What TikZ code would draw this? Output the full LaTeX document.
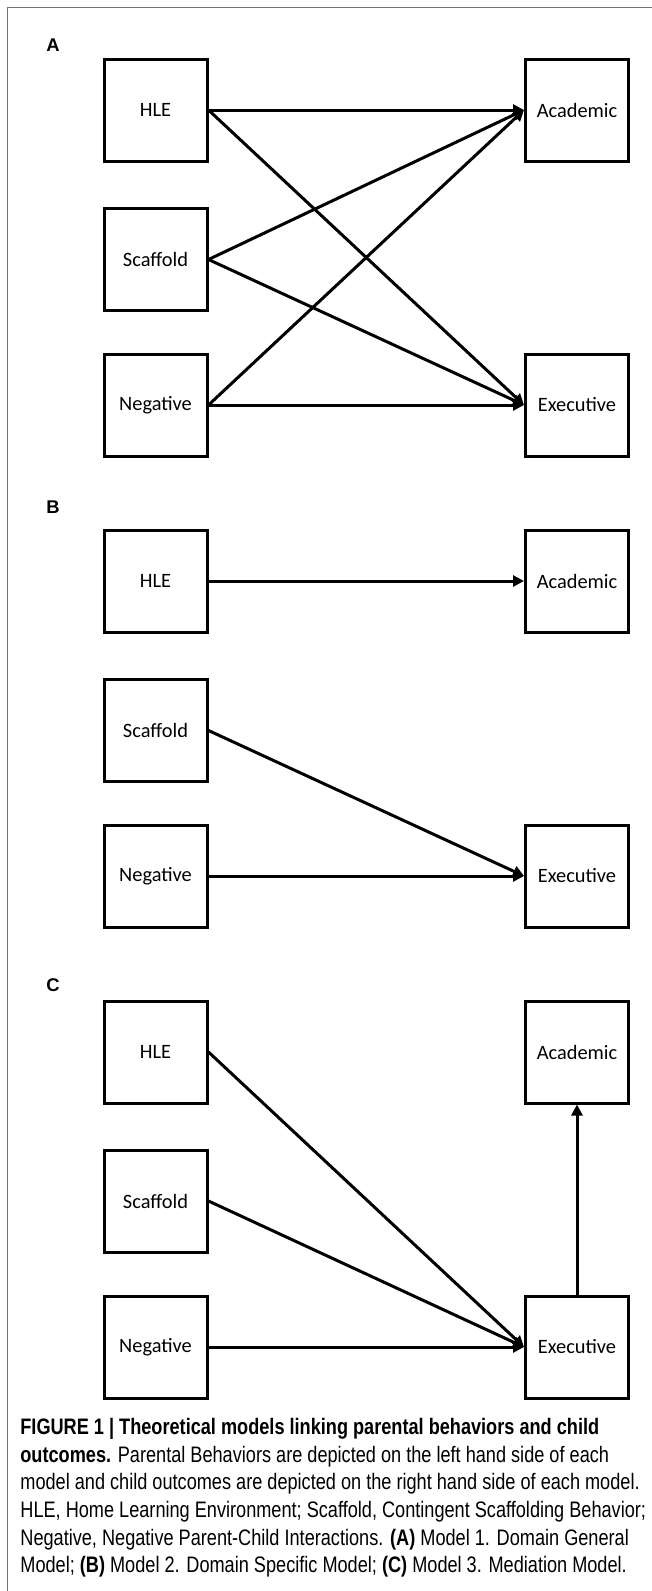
\documentclass[tikz,border=0pt]{standalone}
\usepackage{fontspec}
\setmainfont{Liberation Sans}
\newfontfamily\boxfont{Carlito}
\newfontfamily\capfont[FakeStretch=0.81]{Liberation Sans}
\usetikzlibrary{arrows.meta}
\tikzset{
    var-box/.style = {draw=black, line width=1.5pt, rectangle, minimum width=51.5pt, minimum height=51pt, inner sep=0pt, font=\boxfont\fontsize{10.2}{12}\selectfont},
    panel-label/.style = {font=\bfseries\fontsize{9.2}{10}\selectfont},
    path-arrow/.style = {line width=1.5pt, -{Triangle[length=5.5pt, width=5.5pt]}},
    frame-line/.style = {draw=black!55, line width=0.75pt},
    caption-text/.style = {align=left, inner sep=0pt, font=\capfont\fontsize{11.2}{13.8}\selectfont},
}

\begin{document}
\begin{tikzpicture}[x=0.5pt, y=-0.5pt]
\useasboundingbox (0,0) rectangle (652,1591);
\draw[frame-line] (7.5,1591) -- (7.5,7.5) -- (652,7.5);

% A: domain general
\node[panel-label] (lab-a) at (53,45) {A};
\node[var-box] (hle-a) at (155.5,110) {HLE};
\node[var-box] (scaf-a) at (155.5,259.5) {Scaffold};
\node[var-box] (neg-a) at (155.5,405) {Negative};
\node[var-box] (acad-a) at (577,110) {Academic};
\node[var-box] (exec-a) at (577,405) {Executive};
\draw[path-arrow] (hle-a.east) -- (acad-a.west);
\draw[path-arrow] (hle-a.east) -- (exec-a.west);
\draw[path-arrow] (scaf-a.east) -- (acad-a.west);
\draw[path-arrow] (scaf-a.east) -- (exec-a.west);
\draw[path-arrow] (neg-a.east) -- (acad-a.west);
\draw[path-arrow] (neg-a.east) -- (exec-a.west);

% B: domain specific
\node[panel-label] (lab-b) at (53,507) {B};
\node[var-box] (hle-b) at (155.5,581) {HLE};
\node[var-box] (scaf-b) at (155.5,730.5) {Scaffold};
\node[var-box] (neg-b) at (155.5,876) {Negative};
\node[var-box] (acad-b) at (577,581) {Academic};
\node[var-box] (exec-b) at (577,876) {Executive};
\draw[path-arrow] (hle-b.east) -- (acad-b.west);
\draw[path-arrow] (scaf-b.east) -- (exec-b.west);
\draw[path-arrow] (neg-b.east) -- (exec-b.west);

% C: mediation
\node[panel-label] (lab-c) at (53,985) {C};
\node[var-box] (hle-c) at (155.5,1052) {HLE};
\node[var-box] (scaf-c) at (155.5,1201) {Scaffold};
\node[var-box] (neg-c) at (155.5,1347) {Negative};
\node[var-box] (acad-c) at (577,1052) {Academic};
\node[var-box] (exec-c) at (577,1347) {Executive};
\draw[path-arrow] (hle-c.east) -- (exec-c.west);
\draw[path-arrow] (scaf-c.east) -- (exec-c.west);
\draw[path-arrow] (neg-c.east) -- (exec-c.west);
\draw[path-arrow] (exec-c.north) -- (acad-c.south);

\node[caption-text, anchor=north west] (caption) at (20,1418) {%
\textbf{FIGURE 1 | Theoretical models linking parental behaviors and child}\\
\textbf{outcomes.} Parental Behaviors are depicted on the left hand side of each\\
model and child outcomes are depicted on the right hand side of each model.\\
HLE, Home Learning Environment; Scaffold, Contingent Scaffolding Behavior;\\
Negative, Negative Parent-Child Interactions. \textbf{(A)} Model 1. Domain General\\
Model; \textbf{(B)} Model 2. Domain Specific Model; \textbf{(C)} Model 3. Mediation Model.};
\end{tikzpicture}
\end{document}
